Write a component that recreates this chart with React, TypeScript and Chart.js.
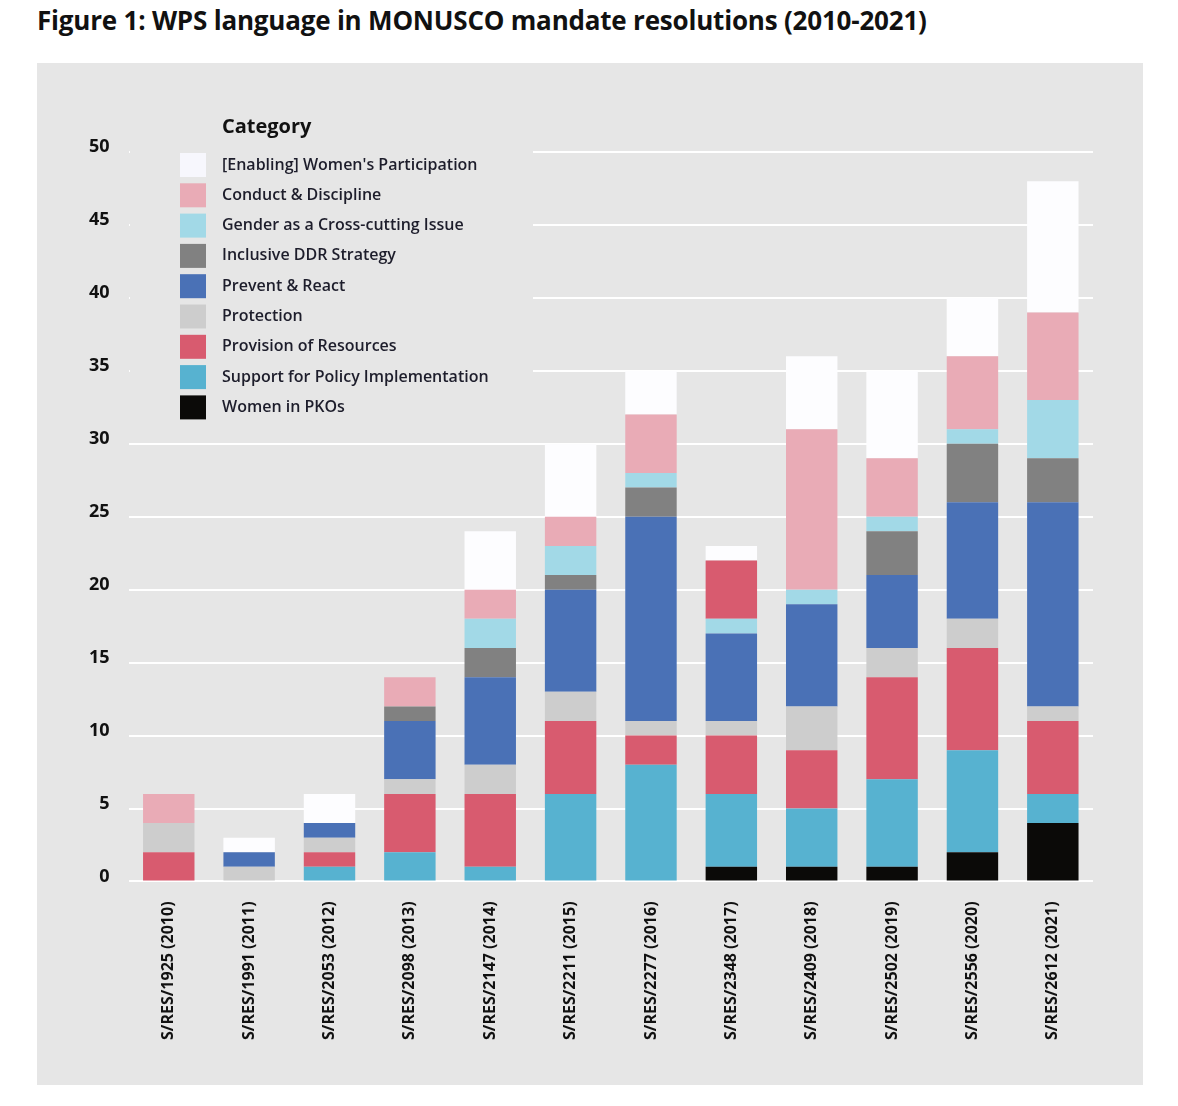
import { Chart, registerables } from "chart.js";
import { useEffect, useRef } from "react";

Chart.register(...registerables);

const resolutions = [
  "S/RES/1925 (2010)", "S/RES/1991 (2011)", "S/RES/2053 (2012)", "S/RES/2098 (2013)",
  "S/RES/2147 (2014)", "S/RES/2211 (2015)", "S/RES/2277 (2016)", "S/RES/2348 (2017)",
  "S/RES/2409 (2018)", "S/RES/2502 (2019)", "S/RES/2556 (2020)", "S/RES/2612 (2021)",
];

// bottom of the stack first
const womenInPKOs = [0, 0, 0, 0, 0, 0, 0, 1, 1, 1, 2, 4];
const supportPolicy = [0, 0, 1, 2, 1, 6, 8, 5, 4, 6, 7, 2];
const provision = [2, 0, 1, 4, 5, 5, 2, 4, 4, 7, 7, 5];
const protection = [2, 1, 1, 1, 2, 2, 1, 1, 3, 2, 2, 1];
const preventReact = [0, 1, 1, 4, 6, 7, 14, 6, 7, 5, 8, 14];
const inclusiveDDR = [0, 0, 0, 1, 2, 1, 2, 0, 0, 3, 4, 3];
const genderCrossCutting = [0, 0, 0, 0, 2, 2, 1, 1, 1, 1, 1, 4];
// 2017 bar shows a second provision block above the gender block
const provisionUpper = [0, 0, 0, 0, 0, 0, 0, 4, 0, 0, 0, 0];
const conduct = [2, 0, 0, 2, 2, 2, 4, 0, 11, 4, 5, 6];
const enabling = [0, 1, 2, 0, 4, 5, 3, 1, 5, 6, 4, 9];

const yTicks = [0, 5, 10, 15, 20, 25, 30, 35, 40, 45, 50];

const legendItems = [
  { label: "[Enabling] Women's Participation", color: "#f7f7fd" },
  { label: "Conduct & Discipline", color: "#e9abb6" },
  { label: "Gender as a Cross-cutting Issue", color: "#a2d9e7" },
  { label: "Inclusive DDR Strategy", color: "#818181" },
  { label: "Prevent & React", color: "#4a71b6" },
  { label: "Protection", color: "#cdcdcd" },
  { label: "Provision of Resources", color: "#d85b6f" },
  { label: "Support for Policy Implementation", color: "#57b2d0" },
  { label: "Women in PKOs", color: "#0b0a08" },
];

const FONT = "'Open Sans', 'Noto Sans', sans-serif";

const legendPlugin = {
  id: "categoryLegend",
  beforeDatasetsDraw(chart: Chart) {
    const ctx = chart.ctx;
    ctx.save();
    ctx.fillStyle = "#e6e6e6";
    ctx.fillRect(93, 44, 403, 318);
    ctx.fillStyle = "#111";
    ctx.textBaseline = "middle";
    ctx.font = `bold 20px ${FONT}`;
    ctx.fillText("Category", 185, 64);
    ctx.font = `600 16px ${FONT}`;
    legendItems.forEach((item, i) => {
      const cy = 102 + i * 30.3;
      ctx.fillStyle = item.color;
      ctx.fillRect(143, cy - 12, 26, 24);
      ctx.fillStyle = "#1d1d2b";
      ctx.fillText(item.label, 185, cy);
    });
    ctx.restore();
  },
};

const WpsChart: React.FC = () => {
  const chartRef = useRef<HTMLCanvasElement | null>(null);

  useEffect(() => {
    if (!chartRef.current) return;
    const mk = (label: string, data: number[], color: string) => ({
      label,
      data,
      backgroundColor: color,
      borderWidth: 0,
      categoryPercentage: 1,
      barPercentage: 0.64,
    });
    const ctx = chartRef.current.getContext("2d");
    if (!ctx) return;
    const myChart = new Chart(ctx, {
      type: "bar",
      data: {
        labels: resolutions,
        datasets: [
          mk("Women in PKOs", womenInPKOs, "#0b0a08"),
          mk("Support for Policy Implementation", supportPolicy, "#57b2d0"),
          mk("Provision of Resources", provision, "#d85b6f"),
          mk("Protection", protection, "#cdcdcd"),
          mk("Prevent & React", preventReact, "#4a71b6"),
          mk("Inclusive DDR Strategy", inclusiveDDR, "#818181"),
          mk("Gender as a Cross-cutting Issue", genderCrossCutting, "#a2d9e7"),
          mk("Provision of Resources ", provisionUpper, "#d85b6f"),
          mk("Conduct & Discipline", conduct, "#e9abb6"),
          mk("[Enabling] Women's Participation", enabling, "#fdfdff"),
        ],
      },
      options: {
        responsive: false,
        animation: false,
        layout: { padding: { left: 33, right: 50, top: 89, bottom: 33 } },
        scales: {
          x: {
            stacked: true,
            grid: { display: false },
            border: { display: false },
            ticks: {
              autoSkip: false,
              minRotation: 90,
              maxRotation: 90,
              padding: 12,
              color: "#111",
              font: { family: FONT, size: 16, weight: "bold" },
            },
          },
          y: {
            stacked: true,
            min: 0,
            max: 50,
            afterBuildTicks: (axis: any) => {
              axis.ticks = yTicks.map((v) => ({ value: v }));
            },
            grid: { color: "#ffffff", lineWidth: 2, drawTicks: false },
            border: { display: false },
            ticks: {
              padding: 19,
              labelOffset: -5,
              color: "#111",
              font: { family: FONT, size: 18, weight: "bold" },
            },
          },
        },
        plugins: {
          legend: { display: false },
          tooltip: { enabled: false },
        },
      },
      plugins: [legendPlugin],
    });
    return () => myChart.destroy();
  }, []);

  return <canvas ref={chartRef} width={1106} height={1022} />;
};

const App: React.FC = () => {
  return (
    <div style={{ position: "absolute", left: 0, top: 0, width: 1178, height: 1106, background: "#ffffff" }}>
      <div
        style={{
          position: "absolute",
          left: 37,
          top: 2,
          fontFamily: FONT,
          fontWeight: 700,
          fontSize: 26,
          letterSpacing: -0.2,
          color: "#111",
          whiteSpace: "nowrap",
        }}
      >
        Figure 1: WPS language in MONUSCO mandate resolutions (2010-2021)
      </div>
      <div style={{ position: "absolute", left: 37, top: 63, width: 1106, height: 1022, background: "#e6e6e6" }}>
        <WpsChart />
      </div>
    </div>
  );
};

export default App;
